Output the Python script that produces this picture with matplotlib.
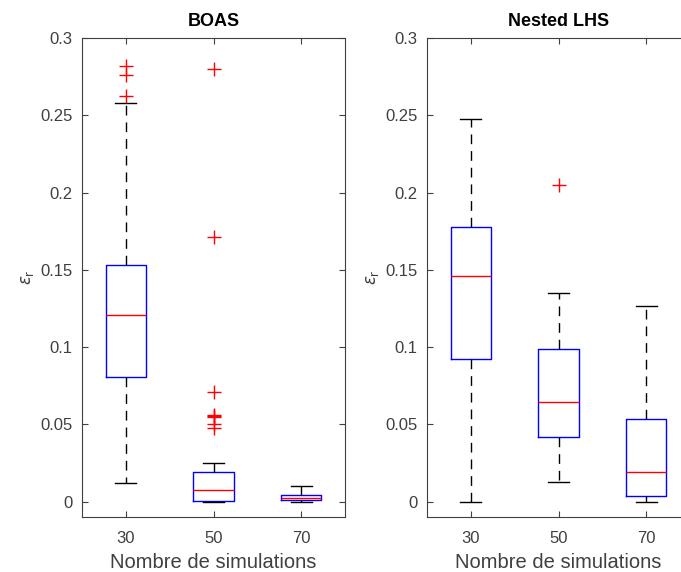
import matplotlib
matplotlib.use('Agg')
import matplotlib.pyplot as plt

plt.rcParams['font.family'] = ['Liberation Sans', 'DejaVu Sans']

categories = ['30', '50', '70']

# BOAS : statistiques
boas_whislo = [0.0118, 0.0, 0.0]
boas_q1 = [0.0806, 0.0006, 0.0010]
boas_med = [0.1207, 0.0073, 0.0026]
boas_q3 = [0.1530, 0.0190, 0.0045]
boas_whishi = [0.2580, 0.0252, 0.0099]
boas_fliers = [
    [0.2820, 0.2760, 0.2623],
    [0.2800, 0.1713, 0.0707, 0.0562, 0.0553, 0.0545, 0.0500, 0.0475],
    [],
]

# Nested LHS
lhs_whislo = [0.0, 0.0125, 0.0]
lhs_q1 = [0.0922, 0.0416, 0.0037]
lhs_med = [0.1459, 0.0642, 0.0188]
lhs_q3 = [0.1774, 0.0987, 0.0537]
lhs_whishi = [0.2474, 0.1349, 0.1267]
lhs_fliers = [[], [0.2050], []]


def stats(whislo, q1, med, q3, whishi, fliers):
    out = []
    for i in range(len(categories)):
        out.append({'whislo': whislo[i], 'q1': q1[i], 'med': med[i],
                    'q3': q3[i], 'whishi': whishi[i], 'fliers': fliers[i],
                    'label': categories[i]})
    return out


fig = plt.figure(figsize=(6.81, 5.72), dpi=100)
ax1 = fig.add_axes([82 / 681, 1 - 517 / 572, 263 / 681, 479 / 572])
ax2 = fig.add_axes([427 / 681, 1 - 517 / 572, 263 / 681, 479 / 572])

panneaux = [
    (ax1, 'BOAS', stats(boas_whislo, boas_q1, boas_med, boas_q3, boas_whishi, boas_fliers)),
    (ax2, 'Nested LHS', stats(lhs_whislo, lhs_q1, lhs_med, lhs_q3, lhs_whishi, lhs_fliers)),
]

gris = '#404040'
for ax, titre, st in panneaux:
    ax.bxp(st, positions=[1, 2, 3], widths=0.46,
           boxprops=dict(color='blue', linewidth=1),
           medianprops=dict(color='red', linewidth=1),
           whiskerprops=dict(color='black', linewidth=1, linestyle=(0, (7, 5))),
           capprops=dict(color='black', linewidth=1),
           flierprops=dict(marker='+', markeredgecolor='red', markersize=10,
                           markeredgewidth=1, linestyle='none'),
           capwidths=0.24)
    ax.set_xlim(0.5, 3.5)
    ax.set_ylim(-0.01, 0.3)
    ax.set_yticks([0, 0.05, 0.1, 0.15, 0.2, 0.25, 0.3])
    ax.set_yticklabels(['0', '0.05', '0.1', '0.15', '0.2', '0.25', '0.3'])
    ax.tick_params(direction='in', top=True, right=True, labelsize=12,
                   colors=gris, length=4, width=0.8)
    ax.tick_params(axis='x', pad=10)
    ax.tick_params(axis='y', pad=7)
    for s in ax.spines.values():
        s.set_color(gris)
        s.set_linewidth(0.8)
    ax.set_title(titre, fontsize=13, fontweight='bold', pad=9)
    ax.set_xlabel('Nombre de simulations', fontsize=14.5, color=gris, labelpad=5)
    ax.set_ylabel(r'$\epsilon_\mathrm{r}$', fontsize=12, color=gris, labelpad=3)

plt.savefig('out.png', dpi=100)
